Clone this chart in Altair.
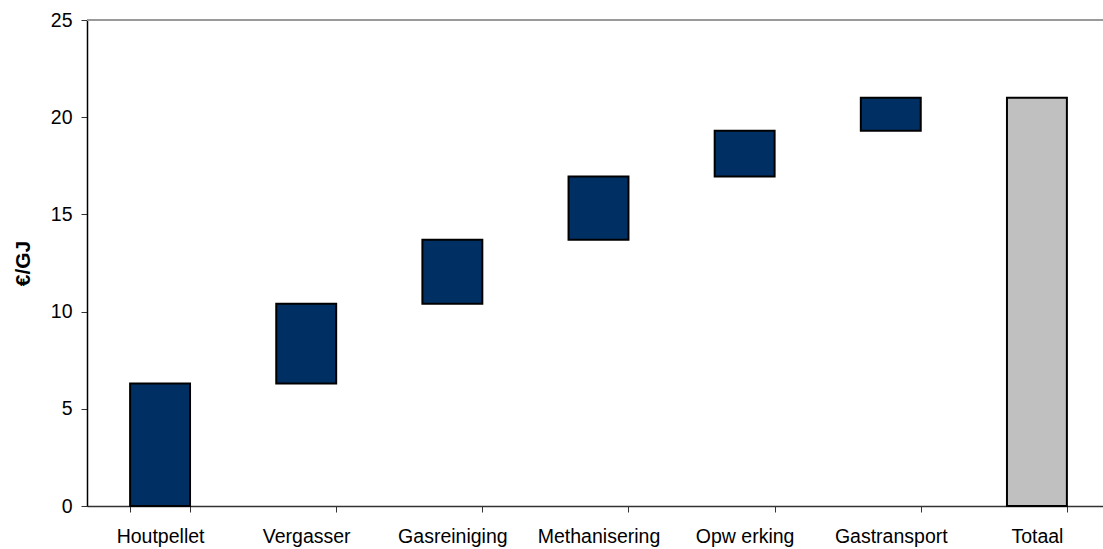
import altair as alt
import pandas as pd

# Cost build-up of green gas from wood pellets (waterfall)
stages = ["Houtpellet", "Vergasser", "Gasreiniging", "Methanisering",
          "Opw erking", "Gastransport", "Totaal"]
increments = [6.3, 4.1, 3.3, 3.25, 2.35, 1.7]

starts, ends = [], []
running = 0.0
for inc in increments:
    starts.append(running)
    running = round(running + inc, 2)
    ends.append(running)
starts.append(0.0)
ends.append(running)
kinds = ["step"] * len(increments) + ["total"]

df = pd.DataFrame({"stage": stages, "start": starts, "end": ends, "kind": kinds})

FONT = "Liberation Sans"
PLOT_W = 1016
STEP_RANGE = 1023

x_enc = alt.X(
    "stage:N",
    sort=stages,
    scale=alt.Scale(range=[0, STEP_RANGE], paddingInner=0.59, paddingOuter=0.295),
    axis=alt.Axis(
        title=None, labelAngle=0, labelFont=FONT, labelFontSize=19.5,
        labelColor="black", labelPadding=15, tickBand="extent", ticks=True,
        tickSize=6, tickColor="#333333", domainColor="#333333",
        domainWidth=1.5, labelFlush=False,
    ),
)

bars = alt.Chart(df).mark_bar(stroke="black", strokeWidth=2).encode(
    x=x_enc,
    y=alt.Y(
        "start:Q",
        scale=alt.Scale(domain=[0, 25], nice=False),
        axis=alt.Axis(
            title="€/GJ", titleFont=FONT, titleFontSize=21, titleFontWeight="bold",
            titleColor="black", titlePadding=17, values=[0, 5, 10, 15, 20, 25],
            labelFont=FONT, labelFontSize=19.5, labelColor="black", labelPadding=9,
            tickSize=6, tickColor="#333333", domainColor="black", domainWidth=1.5,
            grid=False,
        ),
    ),
    y2="end:Q",
    color=alt.Color(
        "kind:N",
        scale=alt.Scale(domain=["step", "total"], range=["#003063", "#c0c0c0"]),
        legend=None,
    ),
)

top_line = alt.Chart(df).mark_rule(color="#9a9a9a", strokeWidth=2).encode(
    y=alt.datum(25),
    x=alt.value(0),
    x2=alt.value(PLOT_W),
)

chart = (
    alt.layer(top_line, bars)
    .properties(
        width=PLOT_W,
        height=486,
        autosize=alt.AutoSizeParams(type="none"),
        padding={"left": 87, "top": 20, "right": 0, "bottom": 43},
        background="white",
    )
    .configure_view(stroke=None)
)

chart.save("out.html", embed_options={"renderer": "svg", "actions": False})
